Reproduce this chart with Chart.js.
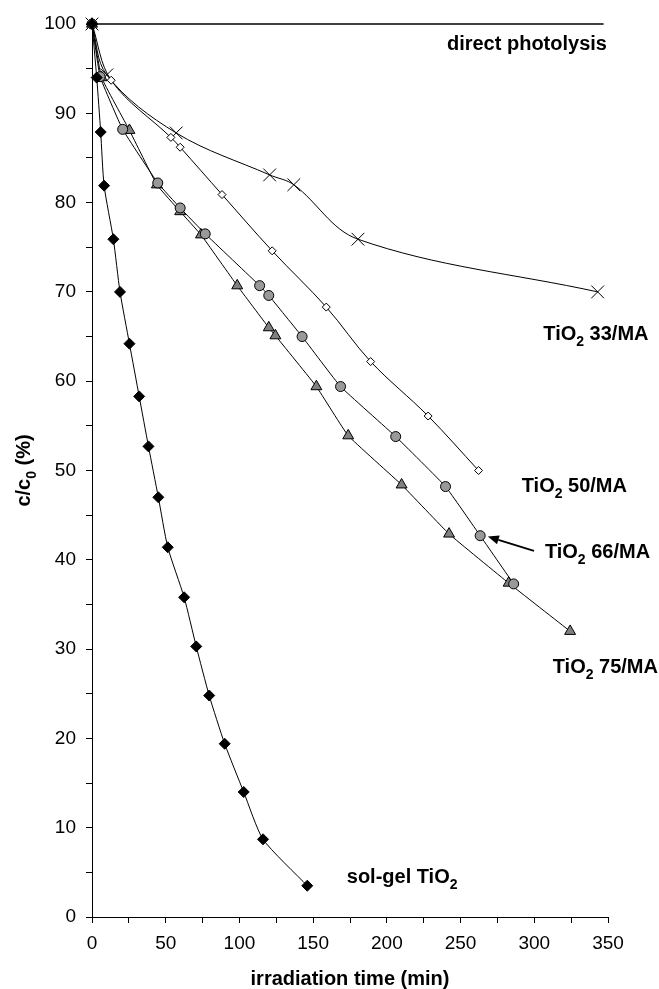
<!DOCTYPE html>
<html>
<head>
<meta charset="utf-8">
<script src="https://cdn.jsdelivr.net/npm/chart.js@4.4.1/dist/chart.umd.min.js"></script>
<style>
  html, body { margin: 0; padding: 0; background: #fff; }
  #wrap { width: 659px; height: 989px; position: relative; }
</style>
</head>
<body>
<div id="wrap"><canvas id="c" width="659" height="989"></canvas></div>
<script>
// ---- data (time in min, c/c0 in %) ----
const directT = [0, 347];
const directC = [100, 100];

const solgelT = [0, 3.2, 5.9, 8.2, 14.5, 19.0, 25.4, 32.0, 38.3, 45.0, 51.4, 62.5, 70.7, 79.5, 90.0, 102.9, 116.0, 146.0];
const solgelC = [100, 94.0, 87.9, 81.9, 75.9, 70.0, 64.2, 58.3, 52.7, 47.0, 41.4, 35.8, 30.3, 24.8, 19.4, 14.0, 8.7, 3.5];

const ma33T = [0, 10, 57.1, 120.5, 136.9, 180.4, 343];
const ma33C = [100, 94.3, 87.8, 83.1, 82.0, 75.9, 70.0];

const ma50T = [0, 13.0, 53.5, 59.8, 88.2, 122.2, 158.9, 189.0, 228.0, 262.2];
const ma50C = [100, 93.7, 87.3, 86.2, 80.9, 74.6, 68.3, 62.2, 56.1, 50.0];

const ma66T = [0, 5.5, 20.8, 44.6, 59.8, 76.8, 113.7, 119.9, 142.5, 168.6, 206.0, 239.8, 263.3, 286.0];
const ma66C = [100, 94.1, 88.2, 82.2, 79.4, 76.5, 70.7, 69.6, 65.0, 59.4, 53.8, 48.2, 42.7, 37.3];

const ma75T = [0, 6.5, 25.4, 44.0, 59.8, 73.9, 98.5, 119.9, 124.4, 152.2, 173.8, 210.0, 242.2, 282.6, 324.3];
const ma75C = [100, 94.0, 88.1, 82.0, 79.0, 76.4, 70.7, 66.0, 65.1, 59.4, 53.9, 48.4, 42.9, 37.4, 32.0];

const xTickLabels = [0, 50, 100, 150, 200, 250, 300, 350];
const yTickLabels = [0, 10, 20, 30, 40, 50, 60, 70, 80, 90, 100];

// ---- helpers ----
function pts(t, c) { return t.map((v, i) => ({ x: v, y: c[i] })); }

const FONT = '"Liberation Sans", Arial, Helvetica, sans-serif';

// annotation layout (data units), kept separate from data
const seriesLabels = [
  { parts: [['direct photolysis', 0]], x: 349.3, y: 97.1, align: 'right' },
  { parts: [['TiO', 0], ['2', 1], [' 33/MA', 0]], x: 306.1, y: 64.6, align: 'left' },
  { parts: [['TiO', 0], ['2', 1], [' 50/MA', 0]], x: 291.5, y: 47.6, align: 'left' },
  { parts: [['TiO', 0], ['2', 1], [' 66/MA', 0]], x: 307.2, y: 40.2, align: 'left' },
  { parts: [['TiO', 0], ['2', 1], [' 75/MA', 0]], x: 312.5, y: 27.3, align: 'left' },
  { parts: [['sol-gel TiO', 0], ['2', 1]], x: 172.8, y: 3.8, align: 'left' }
];
const arrowSpec = { from: { x: 299.8, y: 41.0 }, to: { x: 268.5, y: 42.6 } };

function drawRich(ctx, parts, x, y, align, size, rotate) {
  const big = 'bold ' + size + 'px ' + FONT;
  const small = 'bold ' + Math.round(size * 0.7) + 'px ' + FONT;
  let total = 0;
  parts.forEach(p => { ctx.font = p[1] ? small : big; total += ctx.measureText(p[0]).width; });
  let cx = align === 'right' ? x - total : (align === 'center' ? x - total / 2 : x);
  ctx.save();
  ctx.fillStyle = '#000';
  ctx.textBaseline = 'alphabetic';
  ctx.textAlign = 'left';
  parts.forEach(p => {
    ctx.font = p[1] ? small : big;
    ctx.fillText(p[0], cx, y + (p[1] ? size * 0.28 : 0));
    cx += ctx.measureText(p[0]).width;
  });
  ctx.restore();
}

const annotationPlugin = {
  id: 'annot',
  afterDraw(chart) {
    const ctx = chart.ctx;
    const xs = chart.scales.x, ys = chart.scales.y;
    seriesLabels.forEach(l => {
      drawRich(ctx, l.parts, xs.getPixelForValue(l.x), ys.getPixelForValue(l.y), l.align, 20);
    });
    // arrow
    const x1 = xs.getPixelForValue(arrowSpec.from.x), y1 = ys.getPixelForValue(arrowSpec.from.y);
    const x2 = xs.getPixelForValue(arrowSpec.to.x), y2 = ys.getPixelForValue(arrowSpec.to.y);
    const ang = Math.atan2(y2 - y1, x2 - x1);
    const hl = 11, hw = 4.5;
    const bx = x2 - Math.cos(ang) * hl, by = y2 - Math.sin(ang) * hl;
    ctx.save();
    ctx.strokeStyle = '#000'; ctx.fillStyle = '#000'; ctx.lineWidth = 2;
    ctx.beginPath(); ctx.moveTo(x1, y1); ctx.lineTo(bx, by); ctx.stroke();
    ctx.beginPath();
    ctx.moveTo(x2, y2);
    ctx.lineTo(bx - Math.sin(ang) * hw, by + Math.cos(ang) * hw);
    ctx.lineTo(bx + Math.sin(ang) * hw, by - Math.cos(ang) * hw);
    ctx.closePath(); ctx.fill();
    ctx.restore();
    // y axis title with subscript
    const cy = (chart.chartArea.top + chart.chartArea.bottom) / 2;
    ctx.save();
    ctx.translate(30, cy);
    ctx.rotate(-Math.PI / 2);
    drawRich(ctx, [['c/c', 0], ['0', 1], [' (%)', 0]], 0, 0, 'center', 20);
    ctx.restore();
  }
};

const base = { showLine: true, borderColor: '#000', borderWidth: 1, pointBorderColor: '#000', pointBorderWidth: 1, clip: false, tension: 0.35 };

new Chart(document.getElementById('c'), {
  type: 'scatter',
  data: {
    datasets: [
      Object.assign({}, base, { label: 'sol-gel TiO2', data: pts(solgelT, solgelC), pointStyle: 'rectRot', pointRadius: 5.5, pointBackgroundColor: '#000', tension: 0.2 }),
      Object.assign({}, base, { label: 'TiO2 66/MA', data: pts(ma66T, ma66C), pointStyle: 'circle', pointRadius: 5, pointBackgroundColor: '#999999', tension: 0.1 }),
      Object.assign({}, base, { label: 'TiO2 75/MA', data: pts(ma75T, ma75C), pointStyle: 'triangle', pointRadius: 6.3, pointBackgroundColor: '#808080', tension: 0.1 }),
      Object.assign({}, base, { label: 'TiO2 50/MA', data: pts(ma50T, ma50C), pointStyle: 'rectRot', pointRadius: 4, pointBackgroundColor: '#fff' }),
      Object.assign({}, base, { label: 'TiO2 33/MA', data: pts(ma33T, ma33C), pointStyle: 'crossRot', pointRadius: 9 }),
      Object.assign({}, base, { label: 'direct photolysis', data: pts(directT, directC), pointRadius: 0, borderWidth: 1.5, tension: 0 })
    ]
  },
  options: {
    responsive: false,
    animation: false,
    events: [],
    layout: { padding: { top: 24, right: 51, bottom: 0, left: 0 } },
    plugins: { legend: { display: false }, tooltip: { enabled: false } },
    scales: {
      x: {
        type: 'linear', min: 0, max: 350,
        afterFit(s) { s.height = 72; },
        afterBuildTicks(s) { s.ticks = []; for (let v = 0; v <= 350; v += 25) s.ticks.push({ value: v }); },
        ticks: {
          autoSkip: false, maxRotation: 0, padding: 9, color: '#000',
          font: { family: FONT, size: 19 },
          callback: v => xTickLabels.includes(v) ? String(v) : ''
        },
        grid: { display: true, drawOnChartArea: false, drawTicks: true, tickLength: 6, color: '#000', lineWidth: 1 },
        border: { display: true, color: '#000', width: 1 },
        title: { display: true, text: 'irradiation time (min)', color: '#000', font: { family: FONT, size: 20, weight: 'bold', lineHeight: 1 }, padding: { top: 0, bottom: 0 } }
      },
      y: {
        type: 'linear', min: 0, max: 100,
        afterFit(s) { s.width = 92; },
        afterBuildTicks(s) { s.ticks = []; for (let v = 0; v <= 100; v += 5) s.ticks.push({ value: v }); },
        ticks: {
          autoSkip: false, padding: 10, color: '#000',
          font: { family: FONT, size: 19 },
          callback: v => yTickLabels.includes(v) ? String(v) : ''
        },
        grid: { display: true, drawOnChartArea: false, drawTicks: true, tickLength: 6, color: '#000', lineWidth: 1 },
        border: { display: true, color: '#000', width: 1 }
      }
    }
  },
  plugins: [annotationPlugin]
});
</script>
</body>
</html>
